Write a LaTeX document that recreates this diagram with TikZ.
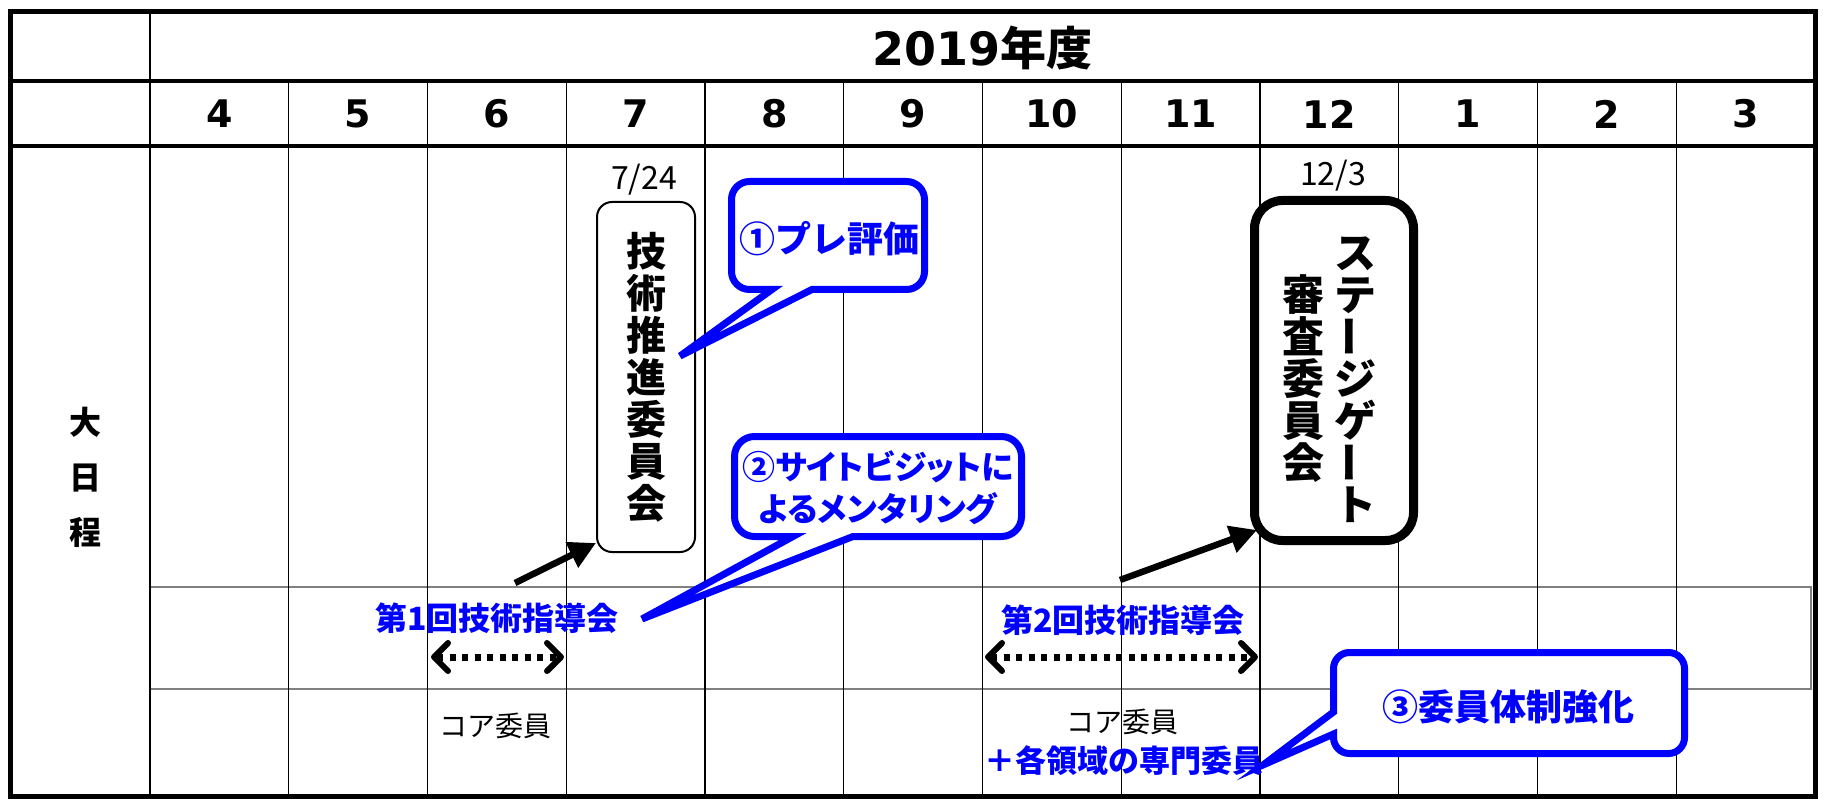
\documentclass[tikz,border=0pt]{standalone}
\usepackage{graphicx}
\usepackage{fontspec}
\setmainfont{Noto Sans CJK JP}
\newfontfamily\jpp{Noto Sans CJK JP}[RawFeature=+palt]
\newfontfamily\dv{DejaVu Sans}
\usetikzlibrary{arrows.meta}
\definecolor{cblue}{RGB}{0,0,255}
\definecolor{rowgray}{RGB}{128,128,128}
\newcommand{\fs}[1]{\fontsize{#1}{#1}\selectfont}
\newcommand{\vbar}{\raisebox{-0.12em}{\rotatebox{90}{ー}}}
\tikzset{
  callout/.style={draw=cblue, line width=7pt, fill=white, line join=miter},
  bluetext/.style={text=cblue, inner sep=0pt},
  blackarrow/.style={line width=6.5pt, -{Triangle[length=27pt,width=27pt]}},
  dotarrow/.style={line width=7pt, dash pattern=on 6pt off 6.5pt,
     {Straight Barb[length=14pt,width=28pt,line width=6pt,round]}-{Straight Barb[length=14pt,width=28pt,line width=6pt,round]}},
  monthlabel/.style={font=\dv\bfseries\fs{38}, inner sep=0pt},
  vbox/.style={draw, fill=white, align=center, inner sep=0pt}
}
\begin{document}
\begin{tikzpicture}[x=1pt,y=-1pt]
\useasboundingbox (0,0) rectangle (1825,799);
% grid
\draw[rowgray, line width=2.5pt] (150,587) rectangle (1811,689);
\draw[line width=1.5pt] (150,12) -- (150,796);
\foreach \k in {1,...,11} \draw[line width=1.3pt] ({150+138.75*\k},81) -- ({150+138.75*\k},796);
\draw[line width=3.5pt] (10,81) -- (1815,81);
\draw[line width=3.5pt] (10,146) -- (1815,146);
\draw[line width=5pt] (10,12) rectangle (1815,796);
% headers
\node[font=\bfseries\fs{46}, inner sep=0pt] (year) at (982.5,48) {{\dv 2019}年度};
\foreach \m [count=\i from 0] in {4,5,6,7,8,9,10,11,12,1,2,3}
  \node[monthlabel] (m\i) at ({150+138.75*(\i+0.5)},114) {\m};
\node[font=\bfseries\fontsize{32}{55}\selectfont, align=center, inner sep=0pt] (label) at (85,477) {大\\日\\程};
% boxes
\node[vbox, line width=2pt, rounded corners=15pt, minimum width=98pt, minimum height=350pt,
      font=\bfseries\fontsize{40}{42}\selectfont] (box1) at (646,377) {技\\術\\推\\進\\委\\員\\会};
\node[font=\fs{32}, inner sep=0pt] (d1) at (644,180) {7/24};
\node[vbox, line width=9pt, rounded corners=28pt, minimum width=159pt, minimum height=340pt] (box2) at (1334,370.5) {};
\node[font=\bfseries\fontsize{42}{42}\selectfont, align=center, inner sep=0pt] (sg) at (1355,380) {ス\\テ\\\vbar\\ジ\\ゲ\\\vbar\\ト};
\node[font=\bfseries\fontsize{42}{42}\selectfont, align=center, inner sep=0pt] (sc) at (1303,379) {審\\査\\委\\員\\会};
\node[font=\fs{32}, inner sep=0pt] (d2) at (1333,176) {12/3};
% meeting labels
\node[bluetext, font=\bfseries\fs{32}] (mt1) at (497,618) {第1回技術指導会};
\node[bluetext, font=\bfseries\fs{32}] (mt2) at (1123,620) {第2回技術指導会};
\node[font=\fs{28}, inner sep=0pt] (core1) at (495,726) {コア委員};
\node[font=\fs{28}, inner sep=0pt] (core2) at (1122,722) {コア委員};
\node[bluetext, font=\bfseries\fs{31}] (plus) at (1124,761) {＋各領域の専門委員};
% arrows
\coordinate (a1s) at (515,583);
\draw[blackarrow] (a1s) -- ([yshift=10pt]box1.south west);
\coordinate (a2s) at (1120,580);
\draw[blackarrow] (a2s) -- ([xshift=7pt,yshift=15pt]box2.south west);
\coordinate (d1a) at (431,657);
\coordinate (d1b) at (564,657);
\draw[dotarrow] (d1a) -- (d1b);
\coordinate (d2a) at (985,657);
\coordinate (d2b) at (1258,657);
\draw[dotarrow] (d2a) -- (d2b);
% callouts
\draw[callout] (828,181.5) [rounded corners=18pt] -- (924.5,181.5) -- (924.5,289.5) [sharp corners] -- (812,289.5)
   -- (680,356) -- (772,289.5) [rounded corners=18pt] -- (731.5,289.5) -- (731.5,181.5) -- cycle;
\node[bluetext, font=\bfseries\fs{36}] (c1) at (829,239) {①プレ評価};
\draw[callout] (878,436.5) [rounded corners=20pt] -- (1021.5,436.5) -- (1021.5,536.5) [sharp corners] -- (853,536.5)
   -- (642,619) -- (793,536.5) [rounded corners=20pt] -- (734.5,536.5) -- (734.5,436.5) -- cycle;
\node[bluetext, font=\jpp\bfseries\fontsize{33}{42}\selectfont, align=center] (c2) at (878,488) {②サイトビジットに\\よるメンタリング};
\draw[callout] (1509,652.5) [rounded corners=16pt] -- (1684.5,652.5) -- (1684.5,753.5) -- (1333.5,753.5) [sharp corners] -- (1333.5,734)
   -- (1263,765) -- (1333.5,712) [rounded corners=16pt] -- (1333.5,652.5) -- cycle;
\node[bluetext, font=\bfseries\fs{36}] (c3) at (1508,707) {③委員体制強化};
\end{tikzpicture}
\end{document}
